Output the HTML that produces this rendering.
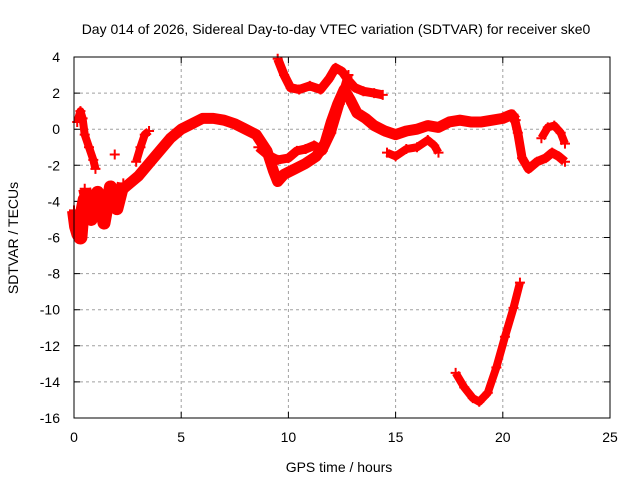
<!DOCTYPE html>
<html><head><meta charset="utf-8"><style>
body{margin:0;background:#fff}
svg text{font-family:"Liberation Sans",sans-serif;font-size:14px;fill:#000}
</style></head><body>
<svg id="chart" width="640" height="480">
<text x="336" y="34" text-anchor="middle">Day 014 of 2026, Sidereal Day-to-day VTEC variation (SDTVAR) for receiver ske0</text>
<text x="339" y="472" text-anchor="middle">GPS time / hours</text>
<text transform="translate(18,238) rotate(-90)" text-anchor="middle">SDTVAR / TECUs</text>
<g id="grid"></g><g id="marks"></g>
<rect x="74" y="57" width="536" height="361" fill="none" stroke="#000" stroke-width="1"/>
</svg>
<script>
const xTicks=[0,5,10,15,20,25];
const yTicks=[4,2,0,-2,-4,-6,-8,-10,-12,-14,-16];
const mainHours=[2,2.5,3,3.5,4,4.5,5,5.5,6,6.5,7,7.5,8,8.5,9,9.3,9.5,9.8,10.3,10.8,11.3,11.7,12,12.3,12.6,12.9,13.2,13.6,14,14.5,15,15.5,16,16.5,17,17.5,18,18.5,19,19.5,20,20.4,20.6];
const mainVals=[-3.6,-3.1,-2.6,-1.9,-1.2,-0.5,0,0.3,0.6,0.6,0.5,0.3,0,-0.3,-1.2,-2.3,-2.9,-2.5,-2.2,-1.9,-1.5,-0.8,0.4,1.4,2.2,1.6,0.9,0.6,0.2,-0.1,-0.3,-0.1,0,0.2,0.1,0.4,0.5,0.4,0.4,0.5,0.6,0.8,0.5];
const branchHours=[8.6,9,9.5,10,10.4,10.8,11.2,11.6,12,12.4,12.8];
const branchVals=[-1,-1.4,-1.7,-1.6,-1.2,-1.1,-0.9,-1.2,-0.2,1.4,3.0];
const tailHours=[20.5,20.7,20.9,21.2,21.6,22,22.3,22.6,22.9];
const tailVals=[0.8,-0.2,-1.6,-2.2,-1.8,-1.6,-1.3,-1.5,-1.8];
const tail2Hours=[21.8,22.1,22.4,22.7,22.9];
const tail2Vals=[-0.5,0.1,0.2,-0.2,-0.8];
const topHours=[9.5,9.8,10.1,10.5,11,11.5,11.9,12.2,12.5,12.8,13.1,13.5,14,14.4];
const topVals=[3.9,3.0,2.3,2.2,2.4,2.2,2.8,3.4,3.2,2.7,2.3,2.1,2.0,1.9];
const midHours=[14.6,15,15.5,16,16.5,16.8,17];
const midVals=[-1.3,-1.5,-1.1,-1.0,-0.6,-0.9,-1.3];
const lowHours=[17.8,18.2,18.6,18.9,19.3,19.7,20.1,20.5,20.8];
const lowVals=[-13.5,-14.3,-14.9,-15.1,-14.6,-13.2,-11.5,-9.9,-8.5];
const earlyHours=[0,0.1,0.2,0.3,0.4,0.5,0.6,0.8,1,1.2,1.5,1.8,2];
const earlyVals=[-4.5,-5.4,-5.8,-6.0,-4.5,-3.9,-4.3,-4.0,-4.6,-4.4,-4.1,-3.8,-3.6];
const spikeHours=[0.15,0.3,0.4,0.5,0.7,0.9,1.0];
const spikeVals=[0.4,1.0,0.6,-0.3,-1.0,-1.7,-2.2];
const riseHours=[2.9,3.1,3.3,3.5];
const riseVals=[-1.8,-1.0,-0.3,-0.1];
const blobHours=[0.5,0.8,1.1,1.4,1.7,2.0,2.3];
const blobVals=[-3.3,-5.0,-3.5,-5.2,-3.2,-4.4,-3.0];
const isoHours=[1.9];
const isoVals=[-1.4];

const X=h=>74+h*536/25, Y=v=>57+(4-v)*361/20;
const NS="http://www.w3.org/2000/svg";
const grid=document.getElementById('grid'), marks=document.getElementById('marks'), svg=document.getElementById('chart');
xTicks.forEach(t=>{
 const x=X(t);
 if(t>0&&t<25){const l=document.createElementNS(NS,'line');l.setAttribute('x1',x);l.setAttribute('x2',x);l.setAttribute('y1',57);l.setAttribute('y2',418);l.setAttribute('stroke','#a0a0a0');l.setAttribute('stroke-dasharray','3,3');
 
 
 grid.appendChild(l);}
 const k=document.createElementNS(NS,'path');k.setAttribute('d',`M${x},418v-6M${x},57v6`);k.setAttribute('stroke','#000');
 
 
 grid.appendChild(k);
 const tx=document.createElementNS(NS,'text');tx.setAttribute('x',x);tx.setAttribute('y',442);tx.setAttribute('text-anchor','middle');tx.textContent=t;
 
 
 svg.appendChild(tx);
});
yTicks.forEach(t=>{
 const y=Y(t);
 if(t<4&&t>-16){const l=document.createElementNS(NS,'line');l.setAttribute('x1',74);l.setAttribute('x2',610);l.setAttribute('y1',y);l.setAttribute('y2',y);l.setAttribute('stroke','#a0a0a0');l.setAttribute('stroke-dasharray','3,3');
 
 
 grid.appendChild(l);}
 const k=document.createElementNS(NS,'path');k.setAttribute('d',`M74,${y}h6M610,${y}h-6`);k.setAttribute('stroke','#000');
 
 
 grid.appendChild(k);
 const tx=document.createElementNS(NS,'text');tx.setAttribute('x',60);tx.setAttribute('y',y+5);tx.setAttribute('text-anchor','end');tx.textContent=t;
 
 
 svg.appendChild(tx);
});
function series(hs,vs,name,w){
 const g=document.createElementNS(NS,'g');
 
 
 if(hs.length>1){const p=document.createElementNS(NS,'polyline');
 p.setAttribute('points',hs.map((h,i)=>X(h)+','+Y(vs[i])).join(' '));
 p.setAttribute('fill','none');p.setAttribute('stroke','#ff0000');p.setAttribute('stroke-width',w);p.setAttribute('stroke-linejoin','round');
 
 
 g.appendChild(p);}
 hs.forEach((h,i)=>{const m=document.createElementNS(NS,'path');const x=X(h),y=Y(vs[i]);
 m.setAttribute('d',`M${x-5},${y}h10M${x},${y-5}v10`);m.setAttribute('stroke','#ff0000');m.setAttribute('stroke-width',2);
 
 
 g.appendChild(m);});
 marks.appendChild(g);
}
series(mainHours,mainVals,'main-series',11);
series(branchHours,branchVals,'branch-series',9);
series(tailHours,tailVals,'tail-series',9);
series(tail2Hours,tail2Vals,'tail2-series',8);
series(topHours,topVals,'top-series',9);
series(midHours,midVals,'mid-series',8);
series(lowHours,lowVals,'low-series',8);
series(earlyHours,earlyVals,'early-series',14);
series(spikeHours,spikeVals,'spike-series',8);
series(riseHours,riseVals,'rise-series',8);
series(blobHours,blobVals,'blob-series',13);
series(isoHours,isoVals,'isolated-point',4);
</script>
</body></html>
